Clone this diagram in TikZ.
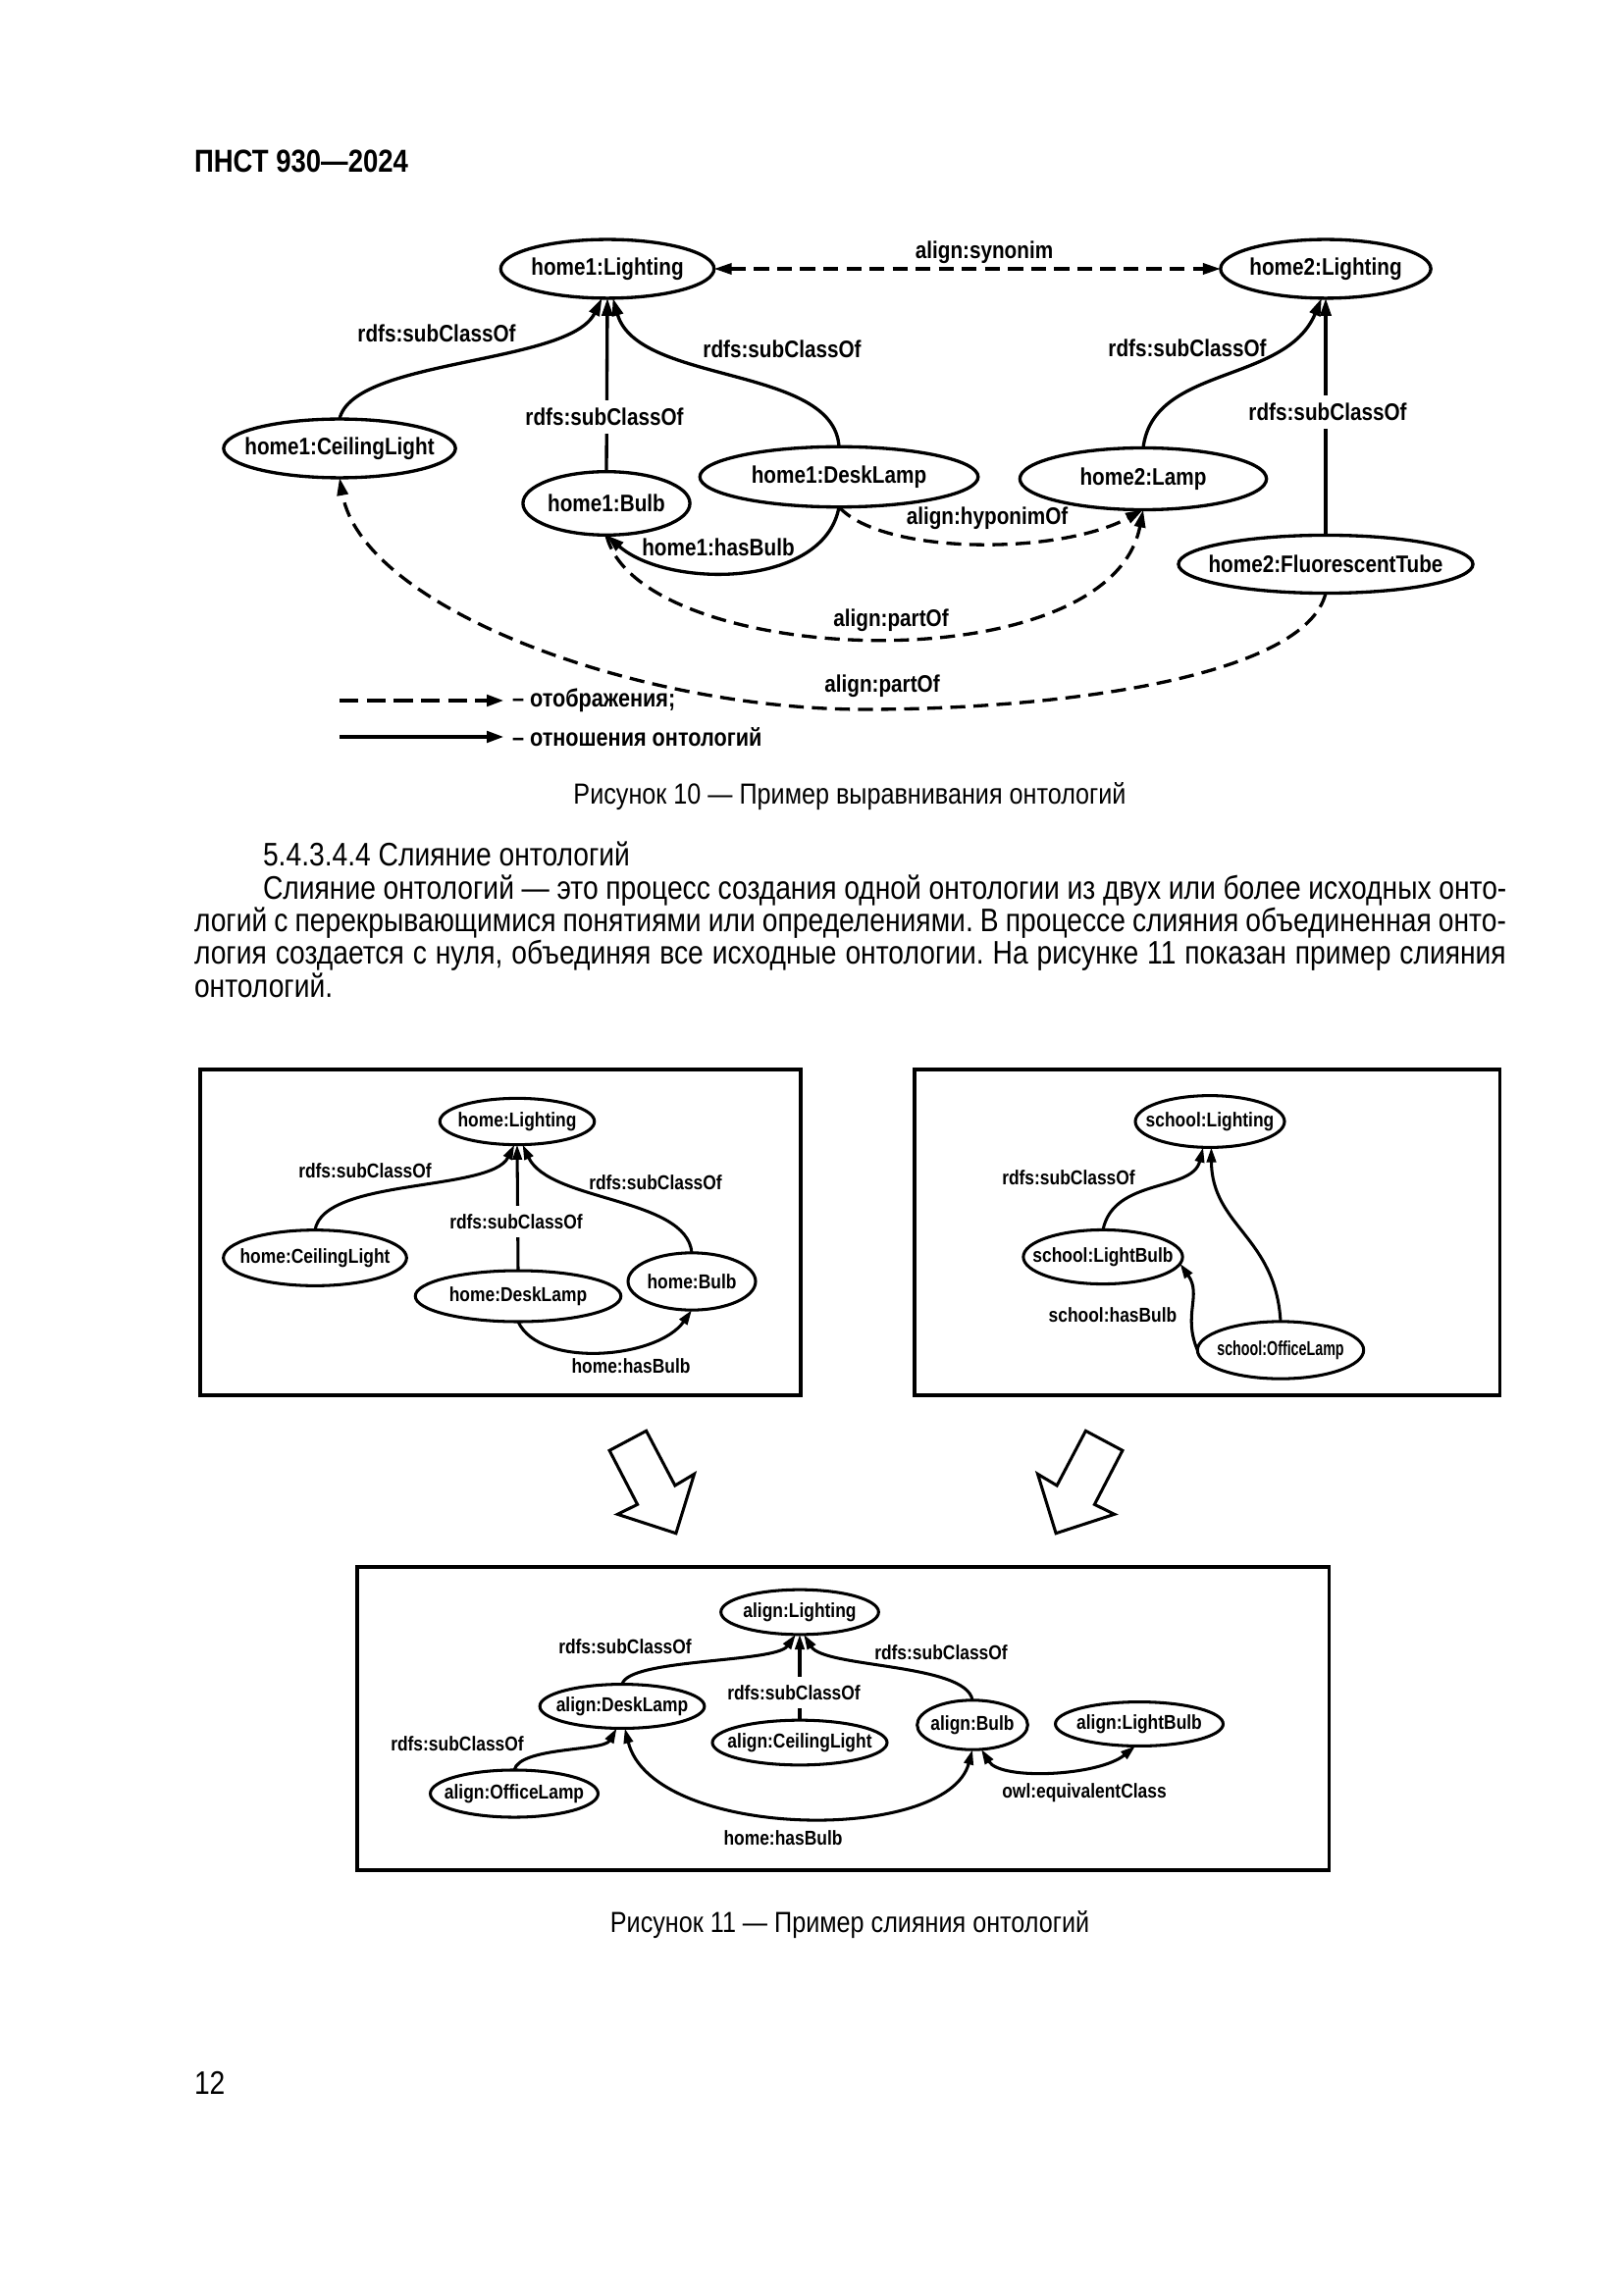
\documentclass[tikz,border=0pt]{standalone}
\usepackage{fontspec}
\usepackage{graphicx}
\setmainfont[FakeStretch=0.85]{Liberation Sans}
\newfontfamily\figfont[FakeStretch=0.85]{Liberation Sans}
\usetikzlibrary{arrows.meta,shapes.geometric}
\newcommand\figA{\figfont\bfseries\fontsize{8.8}{10.5}\selectfont}
\newcommand\figB{\figfont\bfseries\fontsize{7.4}{9}\selectfont}
\newcommand\bodyf{\fontsize{12}{14}\selectfont}
\newcommand\capf{\fontsize{10.7}{13}\selectfont}
\newcommand\zt[1]{\makebox[0pt]{#1}}
\frenchspacing
\begin{document}
\begin{tikzpicture}[x=0.012696cm,y=-0.012696cm,
 every node/.style={inner sep=0pt, outer sep=0pt},
 elA/.style={ellipse, draw, line width=1.2pt, font=\figA},
 elB/.style={ellipse, draw, line width=1.1pt, font=\figB},
 lblA/.style={font=\figA},
 lblB/.style={font=\figB},
 gap/.style={fill=white, inner xsep=1pt, inner ysep=3pt},
 rel/.style={line width=1.2pt, >={Triangle[length=6.5pt,width=4pt]}, ->},
 map/.style={rel, dash pattern=on 5.5pt off 3pt},
 relB/.style={line width=1.1pt, >={Triangle[length=5.5pt,width=3.4pt]}, ->},
 frame/.style={draw, line width=1.1pt},
 bigarrow/.style={draw, line width=1.1pt, line join=miter},
 body/.style={font=\bodyf},
 capt/.style={font=\capf}]
\useasboundingbox (0,0) rectangle (1654,2339);
\fill[white] (0,0) rectangle (1654,2339);

% header
\node[anchor=base west, font=\bfseries\fontsize{11.7}{14}\selectfont] (hdr) at (198,176) {ПНСТ 930—2024};

% ---------- Figure 10 ----------
\node[elA, minimum width=2.76cm, minimum height=0.76cm] (l1) at (619,274) {\zt{home1:Lighting}};
\node[elA, minimum width=2.72cm, minimum height=0.76cm] (l2) at (1351,274) {\zt{home2:Lighting}};
\node[elA, minimum width=3.0cm, minimum height=0.76cm] (cl) at (346,457) {\zt{home1:CeilingLight}};
\node[elA, minimum width=2.16cm, minimum height=0.82cm] (bulb) at (618,513) {\zt{home1:Bulb}};
\node[elA, minimum width=3.6cm, minimum height=0.78cm] (dl) at (855,486) {\zt{home1:DeskLamp}};
\node[elA, minimum width=3.19cm, minimum height=0.8cm] (lp) at (1165,488) {\zt{home2:Lamp}};
\node[elA, minimum width=3.81cm, minimum height=0.75cm] (ft) at (1351,575) {\zt{home2:FluorescentTube}};

\draw[rel] (cl.north) .. controls (360,365) and (580,372) .. ([xshift=-2pt]l1.south);
\draw[rel] (bulb.north) -- (l1.south);
\draw[rel] (dl.north) .. controls (850,372) and (650,392) .. ([xshift=2pt]l1.south);
\draw[rel] (lp.north) .. controls (1175,372) and (1310,392) .. ([xshift=-1.5pt]l2.south);
\draw[rel] (ft.north) -- (l2.south);
\draw[map, <->] (l1.east) -- (l2.west);
\draw[rel] (dl.south) .. controls (840,600) and (680,600) .. (bulb.south);
\draw[map] (dl.south) .. controls (900,566) and (1080,566) .. (lp.south);
\draw[map] (bulb.south) .. controls (650,680) and (1130,700) .. (lp.south);
\coordinate (pm) at (881,723);
\draw[map] (ft.south) .. controls (1330,690) and (1080,723) .. (pm) .. controls (650,723) and (370,620) .. (cl.south);

\node[lblA] (s1) at (445,340) {rdfs:subClassOf};
\node[lblA, gap] (s2) at (616,425) {rdfs:subClassOf};
\node[lblA] (s3) at (797,356) {rdfs:subClassOf};
\node[lblA] (s4) at (1210,355) {rdfs:subClassOf};
\node[lblA, gap] (s5) at (1353,420) {rdfs:subClassOf};
\node[lblA] (syn) at (1003,257) {align:synonim};
\node[lblA] (hb1) at (732,558) {home1:hasBulb};
\node[lblA] (hyp) at (1006,528) {align:hyponimOf};
\node[lblA] (po1) at (908,632) {align:partOf};
\node[lblA] (po2) at (899,699) {align:partOf};

% legend
\coordinate (la1) at (346,714); \coordinate (la2) at (514,714);
\coordinate (lb1) at (346,751); \coordinate (lb2) at (514,751);
\draw[map, line width=1.6pt, dash pattern=on 7pt off 3pt] (la1) -- (la2);
\draw[rel, line width=1.6pt] (lb1) -- (lb2);
\node[lblA, anchor=west, font=\figfont\bfseries\fontsize{9.2}{11}\selectfont] (lt1) at (522,714) {– отображения;};
\node[lblA, anchor=west, font=\figfont\bfseries\fontsize{9.2}{11}\selectfont] (lt2) at (522,751) {– отношения онтологий};

\node[capt, anchor=base] (cap10) at (866,819) {Рисунок 10 — Пример выравнивания онтологий};

% ---------- text ----------
\node[body, anchor=base west] (sec) at (268,882) {5.4.3.4.4 Слияние онтологий};
\node[body, anchor=base west] (p1) at (268,916) {\makebox[16.09cm][s]{Слияние онтологий — это процесс создания одной онтологии из двух или более исходных онто-}};
\node[body, anchor=base west] (p2) at (198,949) {\makebox[16.97cm][s]{логий с перекрывающимися понятиями или определениями. В процессе слияния объединенная онто-}};
\node[body, anchor=base west] (p3) at (198,982) {\makebox[16.97cm][s]{логия создается с нуля, объединяя все исходные онтологии. На рисунке 11 показан пример слияния}};
\node[body, anchor=base west] (p4) at (198,1016) {онтологий.};

% ---------- Figure 11 ----------
\draw[frame] (204,1090) rectangle (816,1422);
\draw[frame] (932,1090) rectangle (1528,1422);
\draw[frame] (364,1597) rectangle (1354,1906);

% box 1
\node[elB, minimum width=2.0cm, minimum height=0.6cm] (hl) at (527,1143) {\zt{home:Lighting}};
\node[elB, minimum width=2.37cm, minimum height=0.72cm] (hcl) at (321,1282) {\zt{home:CeilingLight}};
\node[elB, minimum width=2.66cm, minimum height=0.66cm] (hdl) at (528,1321) {\zt{home:DeskLamp}};
\node[elB, minimum width=1.65cm, minimum height=0.74cm] (hb) at (705,1306) {\zt{home:Bulb}};
\draw[relB] (hcl.north) .. controls (330,1200) and (500,1215) .. ([xshift=-1pt]hl.south);
\draw[relB] (hdl.north) -- (hl.south);
\draw[relB] (hb.north) .. controls (700,1220) and (560,1225) .. ([xshift=2pt]hl.south);
\draw[relB] (hdl.south) .. controls (550,1395) and (670,1385) .. (hb.south);
\node[lblB] (b1) at (372,1193) {rdfs:subClassOf};
\node[lblB, gap] (b2) at (526,1245) {rdfs:subClassOf};
\node[lblB] (b3) at (668,1205) {rdfs:subClassOf};
\node[lblB] (b4) at (643,1392) {home:hasBulb};

% box 2
\node[elB, minimum width=1.93cm, minimum height=0.67cm] (sl) at (1233,1143) {\zt{school:Lighting}};
\node[elB, minimum width=2.06cm, minimum height=0.7cm] (slb) at (1124,1281) {\zt{school:LightBulb}};
\node[elB, minimum width=2.15cm, minimum height=0.74cm] (sol) at (1305,1376) {\zt{\scalebox{0.82}[1]{school:OfficeLamp}}};
\draw[relB] (slb.north) .. controls (1135,1200) and (1215,1215) .. ([xshift=-2.5pt]sl.south);
\draw[relB] (sol.north) .. controls (1300,1260) and (1235,1250) .. ([xshift=0.5pt]sl.south);
\draw[relB] (sol.west) .. controls (1205,1340) and (1225,1320) .. (slb.-5);
\node[lblB] (c1) at (1089,1200) {rdfs:subClassOf};
\node[lblB] (c2) at (1134,1340) {school:hasBulb};

% block arrows
\draw[bigarrow] (658.6,1458.3) -- (621.1,1478.3) -- (649.6,1533.3) -- (629.3,1543.3) -- (688.9,1562.7) -- (707.5,1502.3) -- (687.9,1514) -- cycle;
\draw[bigarrow] (1106.4,1458.3) -- (1143.9,1478.3) -- (1115.4,1533.3) -- (1135.7,1543.3) -- (1076.1,1562.7) -- (1057.5,1502.3) -- (1077.1,1514) -- cycle;

% box 3
\node[elB, minimum width=2.04cm, minimum height=0.58cm] (al) at (815,1643) {\zt{align:Lighting}};
\node[elB, minimum width=2.13cm, minimum height=0.57cm] (adl) at (634,1739) {\zt{align:DeskLamp}};
\node[elB, minimum width=2.26cm, minimum height=0.58cm] (acl) at (815,1776) {\zt{align:CeilingLight}};
\node[elB, minimum width=1.43cm, minimum height=0.64cm] (ab) at (991,1758) {\zt{align:Bulb}};
\node[elB, minimum width=2.17cm, minimum height=0.57cm] (alb) at (1161,1757) {\zt{align:LightBulb}};
\node[elB, minimum width=2.17cm, minimum height=0.61cm] (aol) at (524,1828) {\zt{align:OfficeLamp}};
\draw[relB] (adl.north) .. controls (640,1690) and (790,1695) .. ([xshift=-1.5pt]al.south);
\draw[relB] (acl.north) -- (al.south);
\draw[relB] (ab.north) .. controls (985,1695) and (840,1700) .. ([xshift=1.5pt]al.south);
\draw[relB] (aol.north) .. controls (530,1780) and (615,1785) .. ([xshift=-2pt]adl.south);
\draw[relB, <->] ([xshift=1pt]adl.south) .. controls (665,1875) and (965,1880) .. (ab.south);
\draw[relB, <->] (ab.-70) .. controls (1020,1815) and (1120,1810) .. (alb.-100);
\node[lblB] (d1) at (637,1678) {rdfs:subClassOf};
\node[lblB] (d2) at (959,1684) {rdfs:subClassOf};
\node[lblB, gap] (d3) at (809,1725) {rdfs:subClassOf};
\node[lblB] (d4) at (466,1777) {rdfs:subClassOf};
\node[lblB] (d5) at (1105,1827) {owl:equivalentClass};
\node[lblB] (d6) at (798,1873) {home:hasBulb};

\node[capt, anchor=base] (cap11) at (866,1969) {Рисунок 11 — Пример слияния онтологий};
\node[body, anchor=base west] (pg) at (198,2134) {12};
\end{tikzpicture}
\end{document}
